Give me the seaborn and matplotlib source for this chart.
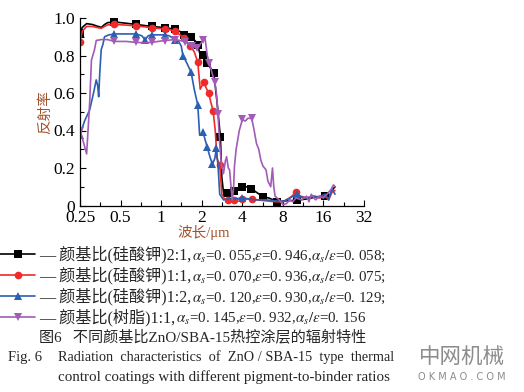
import numpy as np
import pandas as pd
import matplotlib
matplotlib.use('Agg')
import matplotlib.pyplot as plt
from matplotlib.ticker import FixedLocator, FixedFormatter
import seaborn as sns

# == DATA ==
black_wl = [0.25, 0.26, 0.28, 0.31, 0.34, 0.36, 0.38, 0.40, 0.45, 0.55, 0.65, 0.75, 0.85, 0.95,
            1.06, 1.15, 1.26, 1.38, 1.47, 1.57, 1.66, 1.78, 1.87, 1.95, 2.04, 2.2, 2.46, 2.6,
            2.68, 2.75, 2.82, 2.9, 3.06, 3.25, 3.47, 3.75, 4.0, 4.3, 4.68, 5.1, 5.7, 6.3, 7.3,
            8.5, 10.2, 12.0, 14.0, 16.3, 17.5, 18.5, 19.5]
black_r = [0.92, 0.95, 0.97, 0.965, 0.955, 0.95, 0.965, 0.975, 0.979, 0.972, 0.966, 0.96, 0.955,
           0.952, 0.948, 0.945, 0.94, 0.928, 0.912, 0.905, 0.898, 0.88, 0.858, 0.80, 0.805, 0.76,
           0.705, 0.55, 0.45, 0.367, 0.15, 0.07, 0.065, 0.075, 0.08, 0.09, 0.097, 0.10, 0.09,
           0.07, 0.047, 0.04, 0.02, 0.025, 0.028, 0.035, 0.045, 0.052, 0.04, 0.08, 0.10]
black_mk = [0, 8, 10, 12, 14, 16, 18, 20, 22, 24, 25, 26, 29, 32, 34, 36, 38, 40, 42, 44, 47]

red_wl = [0.25, 0.26, 0.28, 0.31, 0.34, 0.36, 0.38, 0.40, 0.45, 0.55, 0.65, 0.75, 0.85, 0.95,
          1.06, 1.15, 1.26, 1.38, 1.47, 1.56, 1.65, 1.76, 1.87, 1.95, 2.07, 2.25, 2.43, 2.52,
          2.6, 2.72, 2.82, 2.95, 3.12, 3.45, 3.7, 4.0, 4.35, 4.7, 5.2, 6.0, 7.0, 8.0, 9.0,
          10.0, 10.8, 12.0, 13.5, 15.0, 16.5, 17.5, 18.5, 19.5]
red_r = [0.874, 0.93, 0.955, 0.955, 0.948, 0.945, 0.955, 0.963, 0.966, 0.962, 0.958, 0.953,
         0.948, 0.945, 0.942, 0.938, 0.93, 0.91, 0.895, 0.87, 0.85, 0.82, 0.764, 0.62, 0.657,
         0.598, 0.504, 0.40, 0.25, 0.216, 0.06, 0.035, 0.032, 0.03, 0.035, 0.037, 0.035, 0.035,
         0.03, 0.025, 0.02, 0.02, 0.04, 0.07, 0.05, 0.04, 0.05, 0.04, 0.05, 0.03, 0.07, 0.08]
red_mk = [0, 8, 10, 12, 14, 16, 18, 20, 22, 24, 25, 26, 29, 32, 33, 35, 37, 43]

blue_wl = [0.25, 0.27, 0.295, 0.315, 0.33, 0.338, 0.344, 0.35, 0.359, 0.37, 0.38, 0.41, 0.45,
           0.55, 0.65, 0.72, 0.76, 0.80, 0.85, 0.95, 1.06, 1.15, 1.26, 1.35, 1.41, 1.45, 1.55,
           1.67, 1.76, 1.87, 1.93, 2.05, 2.12, 2.2, 2.3, 2.4, 2.5, 2.57, 2.65, 2.72, 2.9,
           3.12, 3.5, 4.0, 4.5, 5.0, 6.0, 7.0, 8.0, 9.0, 10.2, 11.0, 12.0, 13.5, 15.0, 16.5,
           17.5, 18.5, 19.5]
blue_r = [0.376, 0.45, 0.51, 0.60, 0.67, 0.64, 0.58, 0.70, 0.83, 0.86, 0.90, 0.91, 0.915,
          0.915, 0.915, 0.905, 0.883, 0.905, 0.91, 0.91, 0.91, 0.905, 0.885, 0.875, 0.85, 0.80,
          0.76, 0.71, 0.62, 0.535, 0.376, 0.39, 0.35, 0.31, 0.26, 0.22, 0.25, 0.305, 0.20,
          0.06, 0.03, 0.035, 0.035, 0.04, 0.035, 0.03, 0.03, 0.025, 0.02, 0.04, 0.06, 0.045,
          0.04, 0.05, 0.045, 0.06, 0.03, 0.09, 0.06]
blue_mk = [0, 12, 14, 16, 18, 20, 22, 25, 27, 29, 31, 33, 35, 37, 43, 50]

purple_wl = [0.25, 0.26, 0.28, 0.295, 0.304, 0.32, 0.33, 0.36, 0.40, 0.45, 0.55, 0.65, 0.75,
             0.85, 0.95, 1.06, 1.15, 1.26, 1.38, 1.5, 1.6, 1.7, 1.86, 1.95, 2.05, 2.12, 2.2,
             2.28, 2.4, 2.5, 2.57, 2.64, 2.72, 2.8, 2.9, 3.0, 3.06, 3.15, 3.22, 3.3, 3.37,
             3.45, 3.5, 3.6, 3.7, 3.8, 3.94, 4.0, 4.2, 4.4, 4.7, 4.9, 5.1, 5.3, 5.5, 5.7, 6.0,
             6.2, 6.5, 6.7, 6.85, 7.0, 7.5, 8.0, 8.5, 9.0, 9.5, 10.0, 11.0, 12.0, 12.5, 13.0,
             14.0, 15.0, 16.0, 17.0, 18.2, 19.0, 19.5]
purple_r = [0.40, 0.36, 0.275, 0.55, 0.776, 0.83, 0.88, 0.885, 0.885, 0.875, 0.875, 0.87,
            0.868, 0.87, 0.875, 0.88, 0.882, 0.885, 0.88, 0.874, 0.86, 0.85, 0.84, 0.86, 0.883,
            0.89, 0.80, 0.76, 0.70, 0.66, 0.60, 0.49, 0.33, 0.22, 0.17, 0.24, 0.26, 0.20, 0.19,
            0.10, 0.03, 0.10, 0.21, 0.30, 0.35, 0.40, 0.44, 0.46, 0.45, 0.465, 0.465, 0.40, 0.33,
            0.30, 0.24, 0.21, 0.19, 0.13, 0.10, 0.20, 0.10, 0.05, 0.03, 0.005, 0.01, 0.03, 0.02,
            0.04, 0.03, 0.05, 0.02, 0.06, 0.03, 0.05, 0.04, 0.06, 0.085, 0.11, 0.10]
purple_mk = [0, 9, 11, 13, 15, 17, 19, 21, 22, 24, 27, 29, 31, 47, 50]

# legend text: chinese part + symbol part (symbols drawn with mathtext)
label_cn = ['— 颜基比(硅酸钾)2:1,', '— 颜基比(硅酸钾)1:1,', '— 颜基比(硅酸钾)1:2,', '— 颜基比(树脂)1:1,']
label_math = [r'$\alpha_s$=0. 055,$\varepsilon$=0. 946,$\alpha_s/\varepsilon$=0. 058;',
              r'$\alpha_s$=0. 070,$\varepsilon$=0. 936,$\alpha_s/\varepsilon$=0. 075;',
              r'$\alpha_s$=0. 120,$\varepsilon$=0. 930,$\alpha_s/\varepsilon$=0. 129;',
              r'$\alpha_s$=0. 145,$\varepsilon$=0. 932,$\alpha_s/\varepsilon$=0. 156']
x_ticks = [0.25, 0.5, 1, 2, 4, 8, 16, 32]
x_ticklabels = ['0.25', '0.5', '1', '2', '4', '8', '16', '32']
y_ticks = [0, 0.2, 0.4, 0.6, 0.8, 1.0]
y_ticklabels = ['0', '0.2', '0.4', '0.6', '0.8', '1.0']

series = [(black_wl, black_r, black_mk, '#000000', 's'),
          (red_wl, red_r, red_mk, '#f02a2a', 'o'),
          (blue_wl, blue_r, blue_mk, '#2b5fb0', '^'),
          (purple_wl, purple_r, purple_mk, '#a25bb6', 'v')]

# ==== PLOT ====
sns.set_theme(style="ticks")
plt.rcParams['font.family'] = ['Liberation Serif', 'Noto Sans CJK SC']
plt.rcParams['mathtext.fontset'] = 'stix'

fig = plt.figure(figsize=(5.24, 3.92), dpi=100)
ax = fig.add_axes([80 / 524, 1 - 205.5 / 392, 284 / 524, 187.5 / 392])

for (wl, r, mk, col, m), lab in zip(series, label_cn):
    df = pd.DataFrame({'wl': wl, 'r': r})
    sns.lineplot(data=df, x='wl', y='r', ax=ax, color=col, sort=False, estimator=None,
                 linewidth=1.2, marker=m, markersize=5.5, markevery=mk,
                 markeredgewidth=0, label=lab)

ax.set_xscale('log', base=2)
ax.set_xlim(0.25, 32)
ax.set_ylim(0, 1.0)
ax.xaxis.set_major_locator(FixedLocator(x_ticks))
ax.xaxis.set_major_formatter(FixedFormatter(x_ticklabels))
ax.xaxis.set_minor_locator(FixedLocator([t * 2 ** 0.5 for t in x_ticks[:-1]]))
ax.xaxis.set_minor_formatter(FixedFormatter([]))
ax.yaxis.set_major_locator(FixedLocator(y_ticks))
ax.yaxis.set_major_formatter(FixedFormatter(y_ticklabels))
ax.yaxis.set_minor_locator(FixedLocator([0.1, 0.3, 0.5, 0.7, 0.9]))
ax.tick_params(which='both', direction='in', labelsize=12.5, colors='black', width=0.8)
ax.tick_params(which='major', length=4)
ax.tick_params(which='minor', length=3)
ax.set_xlabel('')
ax.set_ylabel('')
sns.despine(ax=ax)
for s in ['left', 'bottom']:
    ax.spines[s].set_linewidth(0.9)
    ax.spines[s].set_color('black')

brown = '#a0522d'
fig.text(45 / 524, 1 - 112 / 392, '反射率', rotation=90, color=brown, fontsize=10.5,
         ha='center', va='center')
fig.text(204 / 524, 1 - 233 / 392, '波长/μm', color=brown, fontsize=10.5,
         ha='center', va='center')

handles, labs = ax.get_legend_handles_labels()
leg = ax.legend(handles, labs, loc='upper left', bbox_to_anchor=(0, 1 - 246 / 392),
                bbox_transform=fig.transFigure, frameon=False, fontsize=11.6,
                handlelength=2.2, handletextpad=0.25, labelspacing=0.2, borderpad=0,
                borderaxespad=0)

# put the symbol part right after each chinese legend label
fig.canvas.draw()
renderer = fig.canvas.get_renderer()
W, H = fig.bbox.width, fig.bbox.height
for t, tail in zip(leg.get_texts(), label_math):
    bb = t.get_window_extent(renderer)
    x0, yb = t.get_transform().transform(t.get_position())
    fig.text(bb.x1 / W, yb / H, tail, fontsize=10.8, ha='left', va='baseline')

fig.text(39 / 524, 1 - 337 / 392, '图6   不同颜基比ZnO/SBA-15热控涂层的辐射特性',
         fontsize=10.9, va='center', ha='left')
fig.text(8 / 524, 1 - 357 / 392, 'Fig. 6', fontsize=10.5, va='center', ha='left')
fig.text(58 / 524, 1 - 357 / 392, 'Radiation  characteristics  of  ZnO / SBA-15  type  thermal',
         fontsize=10.3, va='center', ha='left')
fig.text(58 / 524, 1 - 377 / 392, 'control coatings with different pigment-to-binder ratios',
         fontsize=10.8, va='center', ha='left')

# watermark
fig.text(462 / 524, 1 - 357 / 392, '中网机械', fontsize=15.5, color='#8c8c8c',
         family=['Noto Sans CJK SC'], ha='center', va='center')
fig.text(462 / 524, 1 - 377 / 392, 'O K M A O . C O M', fontsize=7, color='#8c8c8c',
         family=['DejaVu Sans'], ha='center', va='center')

fig.savefig('out.png', dpi=100)
plt.close(fig)
